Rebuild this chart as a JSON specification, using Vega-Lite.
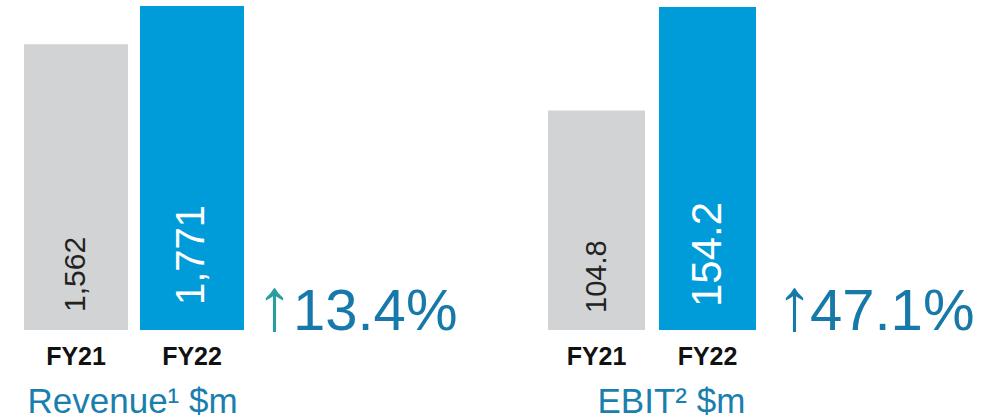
{
  "$schema": "https://vega.github.io/schema/vega-lite/v6.json",
  "padding": {"top": 6, "left": 0, "right": 0, "bottom": 0},
  "background": "white",
  "spacing": 0,
  "config": {"view": {"stroke": null}, "font": "Liberation Sans"},
  "datasets": {
    "rev": [
      {"period": "FY21", "value": 1562, "label": "1,562"},
      {"period": "FY22", "value": 1771, "label": "1,771"}
    ],
    "revpct": [{"period": "pct", "arrow": "↑", "growth": "13.4%"}],
    "ebit": [
      {"period": "FY21", "value": 104.8, "label": "104.8"},
      {"period": "FY22", "value": 154.2, "label": "154.2"}
    ],
    "ebitpct": [{"period": "pct", "arrow": "↑", "growth": "47.1%"}]
  },
  "hconcat": [
    {
      "width": 500,
      "height": 324,
      "encoding": {
        "x": {
          "field": "period", "type": "nominal", "sort": null,
          "scale": {"domain": ["FY21", "FY22", "pct"], "range": [24, 360], "paddingInner": 0.1034, "paddingOuter": 0},
          "axis": {
            "title": "Revenue¹ $m", "labelExpr": "datum.value === 'pct' ? '' : datum.value",
            "labelAngle": 0, "ticks": false, "domain": false, "labelFont": "Liberation Sans",
            "labelFontWeight": "bold", "labelFontSize": 25, "labelColor": "#111111", "labelPadding": 14,
            "titleFont": "Liberation Sans", "titleFontSize": 35, "titleFontWeight": "normal", "titleColor": "#1a7fae",
            "titleAnchor": "start", "titleAlign": "left", "titleBaseline": "alphabetic", "titleX": 27, "titleY": 82
          }
        }
      },
      "layer": [
        {
          "data": {"name": "rev"},
          "mark": {"type": "bar"},
          "encoding": {
            "y": {"field": "value", "type": "quantitative", "scale": {"domain": [0, 1771], "nice": false}, "axis": null},
            "color": {"condition": {"test": "datum.period === 'FY22'", "value": "#009cd9"}, "value": "#d1d3d4"}
          }
        },
        {
          "data": {"name": "rev"},
          "transform": [{"filter": "datum.period === 'FY21'"}],
          "mark": {"type": "text", "angle": 270, "align": "left", "baseline": "middle", "dx": 18, "fontSize": 30, "color": "#222222", "font": "Liberation Sans"},
          "encoding": {"y": {"datum": 0, "type": "quantitative"}, "text": {"field": "label"}}
        },
        {
          "data": {"name": "rev"},
          "transform": [{"filter": "datum.period === 'FY22'"}],
          "mark": {"type": "text", "angle": 270, "align": "left", "baseline": "middle", "dx": 25, "fontSize": 40, "color": "#ffffff", "font": "Liberation Sans"},
          "encoding": {"y": {"datum": 0, "type": "quantitative"}, "text": {"field": "label"}}
        },
        {
          "data": {"name": "revpct"},
          "mark": {"type": "text", "align": "left", "baseline": "alphabetic", "dx": 0, "fontSize": 74, "color": "#2a9d9e", "font": "Liberation Sans"},
          "encoding": {"x": {"field": "period", "type": "nominal", "bandPosition": 0}, "y": {"datum": 0, "type": "quantitative"}, "text": {"field": "arrow"}}
        },
        {
          "data": {"name": "revpct"},
          "mark": {"type": "text", "align": "left", "baseline": "alphabetic", "dx": 37, "fontSize": 58, "color": "#1679a9", "font": "Liberation Sans"},
          "encoding": {"x": {"field": "period", "type": "nominal", "bandPosition": 0}, "y": {"datum": 0, "type": "quantitative"}, "text": {"field": "growth"}}
        }
      ]
    },
    {
      "width": 503,
      "height": 324,
      "encoding": {
        "x": {
          "field": "period", "type": "nominal", "sort": null,
          "scale": {"domain": ["FY21", "FY22", "pct"], "range": [48, 367], "paddingInner": 0.126, "paddingOuter": 0},
          "axis": {
            "title": "EBIT² $m", "labelExpr": "datum.value === 'pct' ? '' : datum.value",
            "labelAngle": 0, "ticks": false, "domain": false, "labelFont": "Liberation Sans",
            "labelFontWeight": "bold", "labelFontSize": 25, "labelColor": "#111111", "labelPadding": 14,
            "titleFont": "Liberation Sans", "titleFontSize": 35, "titleFontWeight": "normal", "titleColor": "#1a7fae",
            "titleAnchor": "start", "titleAlign": "left", "titleBaseline": "alphabetic", "titleX": 97, "titleY": 82
          }
        }
      },
      "layer": [
        {
          "data": {"name": "ebit"},
          "mark": {"type": "bar"},
          "encoding": {
            "y": {"field": "value", "type": "quantitative", "scale": {"domain": [0, 154.7], "nice": false}, "axis": null},
            "color": {"condition": {"test": "datum.period === 'FY22'", "value": "#009cd9"}, "value": "#d1d3d4"}
          }
        },
        {
          "data": {"name": "ebit"},
          "transform": [{"filter": "datum.period === 'FY21'"}],
          "mark": {"type": "text", "angle": 270, "align": "left", "baseline": "middle", "dx": 17, "fontSize": 29, "color": "#222222", "font": "Liberation Sans"},
          "encoding": {"y": {"datum": 0, "type": "quantitative"}, "text": {"field": "label"}}
        },
        {
          "data": {"name": "ebit"},
          "transform": [{"filter": "datum.period === 'FY22'"}],
          "mark": {"type": "text", "angle": 270, "align": "left", "baseline": "middle", "dx": 23, "fontSize": 42, "color": "#ffffff", "font": "Liberation Sans"},
          "encoding": {"y": {"datum": 0, "type": "quantitative"}, "text": {"field": "label"}}
        },
        {
          "data": {"name": "ebitpct"},
          "mark": {"type": "text", "align": "left", "baseline": "alphabetic", "dx": 6, "fontSize": 74, "color": "#1679a9", "font": "Liberation Sans"},
          "encoding": {"x": {"field": "period", "type": "nominal", "bandPosition": 0}, "y": {"datum": 0, "type": "quantitative"}, "text": {"field": "arrow"}}
        },
        {
          "data": {"name": "ebitpct"},
          "mark": {"type": "text", "align": "left", "baseline": "alphabetic", "dx": 40, "fontSize": 58, "color": "#1679a9", "font": "Liberation Sans"},
          "encoding": {"x": {"field": "period", "type": "nominal", "bandPosition": 0}, "y": {"datum": 0, "type": "quantitative"}, "text": {"field": "growth"}}
        }
      ]
    }
  ]
}
